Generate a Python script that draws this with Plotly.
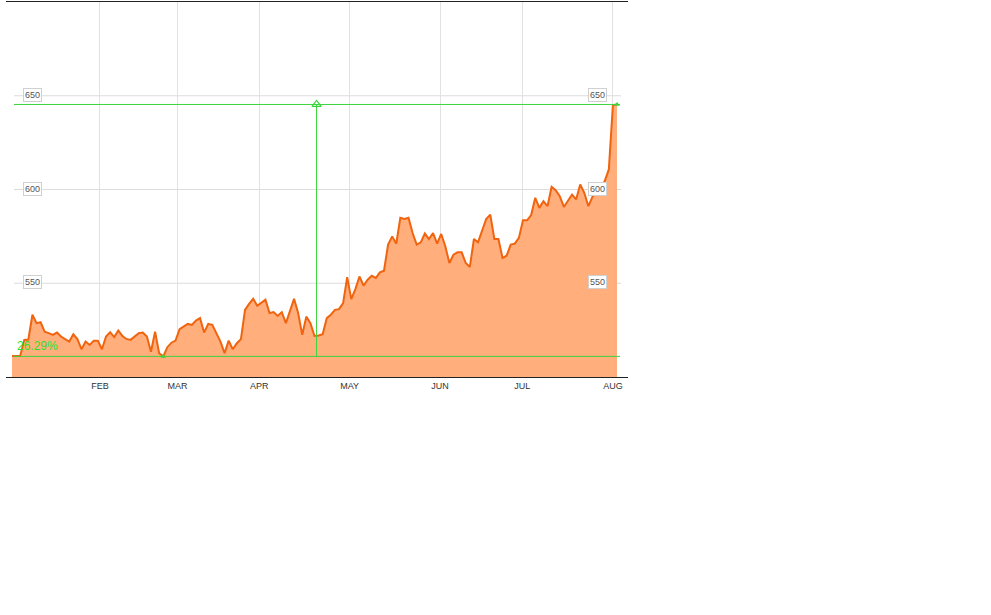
import plotly.graph_objects as go

# ---- data ----
day = [0, 2, 3, 4, 5, 6, 7, 8, 9, 10, 11, 12, 13, 14, 15, 16, 17, 18, 19, 20,
       21, 22, 23, 24, 25, 26, 27, 28, 29, 31, 32, 33, 34, 35, 36, 37, 38, 39, 40, 41,
       43, 44, 45, 46, 47, 48, 49, 51, 52, 53, 54, 55, 56, 57, 58, 59, 60, 62, 63, 64,
       65, 66, 67, 69, 70, 71, 72, 73, 74, 75, 76, 77, 78, 79, 80, 81, 82, 83, 84, 85,
       86, 87, 88, 89, 90, 91, 92, 93, 94, 95, 96, 97, 98, 99, 100, 101, 102, 103, 104, 105,
       106, 107, 108, 109, 110, 111, 112, 113, 114, 115, 116, 117, 118, 119, 120, 121, 122, 123, 124, 125,
       126, 127, 128, 129, 130, 131, 132, 133, 134, 135, 136, 137, 138, 139, 140, 141, 142, 143, 144, 145,
       146, 147, 148]
price = [511.2, 511.2, 519.8, 520.0, 533.2, 528.7, 529.2, 524.1, 523.4, 522.5, 523.7, 521.6, 520.2, 518.9, 522.8, 520.2, 514.8, 518.9, 517.1, 519.4,
         519.4, 514.8, 521.6, 523.9, 521.3, 524.8, 521.9, 520.3, 519.8, 523.4, 523.7, 521.6, 513.5, 524.2, 512.7, 511.0, 515.9, 518.3, 519.4, 525.5,
         528.3, 527.8, 530.1, 531.4, 523.7, 528.3, 527.8, 518.9, 512.7, 519.4, 514.8, 518.0, 520.2, 535.8, 539.0, 541.7, 538.0, 541.2, 534.1, 534.6,
         532.6, 534.6, 528.7, 541.7, 534.1, 522.5, 532.2, 528.7, 521.9, 522.1, 522.8, 531.4, 533.2, 535.8, 536.2, 539.4, 553.3, 541.5, 546.9, 553.6,
         548.7, 551.9, 554.0, 552.8, 555.8, 556.7, 570.6, 575.0, 571.1, 584.9, 584.3, 584.9, 576.8, 570.6, 571.8, 576.5, 573.6, 576.8, 571.1, 576.3,
         569.7, 560.8, 565.2, 566.5, 566.5, 560.8, 558.7, 573.6, 571.8, 578.6, 584.3, 586.6, 573.6, 573.6, 563.5, 564.7, 570.6, 571.1, 574.2, 583.6,
         583.6, 586.4, 595.6, 590.2, 593.8, 591.1, 601.4, 599.6, 596.4, 590.7, 593.8, 597.3, 594.7, 602.7, 598.2, 591.1, 596.1, 598.5, 600.0, 604.5,
         610.7, 645.0, 645.35]

month_labels = ["FEB", "MAR", "APR", "MAY", "JUN", "JUL", "AUG"]
month_days = [21.5, 40.5, 60.5, 82.6, 104.7, 124.8, 147]
y_levels = [550, 600, 650]

# ---- derived ----
lo = min(price)
hi = max(price)
lo_day = day[price.index(lo)]
hi_day = day[price.index(hi)]
pct = (hi / lo - 1) * 100
mid_day = (day[0] + day[-1]) / 2 + 0.5

GREEN = "#3cd43c"
LINE = "#f0640f"
FILL = "#ffae7c"

fig = go.Figure()
fig.add_trace(go.Scatter(
    x=day, y=price, mode="lines", fill="tozeroy",
    line=dict(color=LINE, width=2), fillcolor=FILL,
    hoverinfo="skip", showlegend=False,
))
fig.add_trace(go.Scatter(
    x=[mid_day], y=[hi], mode="markers",
    marker=dict(symbol="triangle-up-open", size=8, color=GREEN, line=dict(width=1.2, color=GREEN)),
    hoverinfo="skip", showlegend=False,
))
fig.add_trace(go.Scatter(
    x=[lo_day, hi_day], y=[lo, hi], mode="markers",
    marker=dict(symbol="triangle-up", size=5, color=GREEN),
    hoverinfo="skip", showlegend=False,
))

L, R = 6, 628
W = R - L

def px(xpix):
    return (xpix - L) / W

shapes = []
for lv in y_levels:
    shapes.append(dict(type="line", xref="paper", yref="y", x0=px(14), x1=px(621), y0=lv, y1=lv,
                       line=dict(color="#dcdcdc", width=1), layer="below"))
shapes.append(dict(type="line", xref="paper", yref="y", x0=px(13), x1=px(620), y0=lo, y1=lo,
                   line=dict(color=GREEN, width=1)))
shapes.append(dict(type="line", xref="paper", yref="y", x0=px(14), x1=px(620), y0=hi, y1=hi,
                   line=dict(color=GREEN, width=1)))
shapes.append(dict(type="line", xref="x", yref="y", x0=mid_day, x1=mid_day, y0=lo, y1=hi,
                   line=dict(color=GREEN, width=1)))

annotations = []
for lv in y_levels:
    for xp in (32.5, 597.5):
        annotations.append(dict(
            x=px(xp), y=lv, xref="paper", yref="y", text=str(lv), showarrow=False,
            font=dict(family="Liberation Sans, Arial", size=9, color="#555"),
            bgcolor="white", bordercolor="#d0d0d0", borderwidth=1, borderpad=1,
            xanchor="center", yanchor="middle", yshift=1,
        ))
annotations.append(dict(
    x=px(15), y=lo, xref="paper", yref="y", text=f"{pct:.2f}%", showarrow=False,
    font=dict(family="Liberation Sans, Arial", size=12, color="#2ee02e"),
    xanchor="left", yanchor="bottom", yshift=1,
))

s = 605 / 148
fig.update_layout(
    width=991, height=615,
    margin=dict(l=L, r=991 - R, t=2, b=238),
    paper_bgcolor="white", plot_bgcolor="white",
    shapes=shapes, annotations=annotations,
    xaxis=dict(
        range=[-(12 - L) / s, 148 + (R - 617) / s],
        tickvals=month_days, ticktext=month_labels,
        showgrid=True, gridcolor="#e2e2e2", gridwidth=1,
        showline=True, mirror=True, linecolor="#222", linewidth=1,
        ticks="", zeroline=False,
        tickfont=dict(family="Liberation Sans, Arial", size=9, color="#333"),
        fixedrange=True,
    ),
    yaxis=dict(
        range=[500, 700], showgrid=False, showticklabels=False, zeroline=False,
        showline=False, fixedrange=True,
    ),
)

fig.write_html("out.html", config={"displayModeBar": False},
               post_script="document.body.style.margin='0';")
